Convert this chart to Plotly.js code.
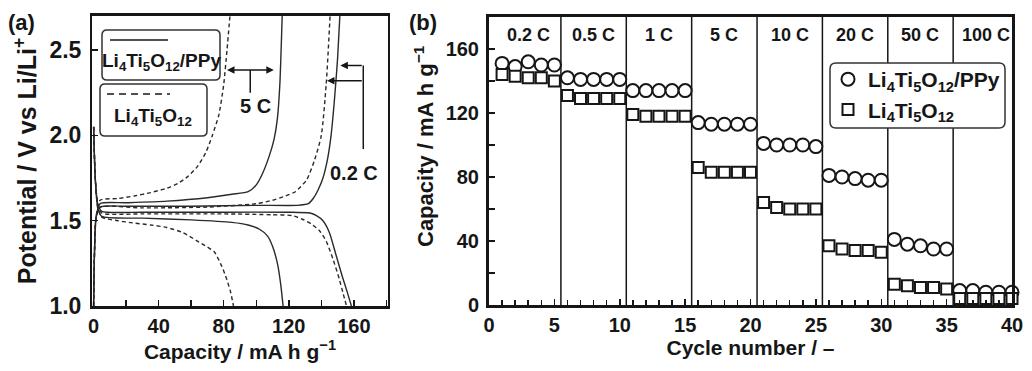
<!DOCTYPE html>
<html>
<head>
<meta charset="utf-8">
<script src="https://cdn.plot.ly/plotly-3.0.1.min.js"></script>
<style>
  body { margin: 0; background: #fff; }
  #plot { width: 1032px; height: 371px; }
</style>
</head>
<body>
<div id="plot"></div>
<script>
// ---- (a) charge / discharge profiles (capacity mA h/g, potential V) ----
var ppy02ChgX = [0, 0.5, 1.5, 4, 20, 60, 100, 125, 132, 135, 138, 141, 144, 146, 148, 150, 151.5];
var ppy02ChgY = [1.0, 1.3, 1.52, 1.58, 1.585, 1.585, 1.59, 1.59, 1.6, 1.63, 1.68, 1.75, 1.87, 2.0, 2.2, 2.45, 2.72];
var ppy02DisX = [0, 1, 2.5, 5, 30, 80, 120, 133, 137, 141, 145, 149, 153, 156, 158.5];
var ppy02DisY = [2.05, 1.75, 1.6, 1.555, 1.55, 1.55, 1.55, 1.545, 1.53, 1.5, 1.43, 1.3, 1.17, 1.08, 1.0];

var lto02ChgX = [0, 0.5, 1.5, 4, 30, 70, 100, 110, 118, 124, 131, 136, 140, 143, 145.5];
var lto02ChgY = [1.0, 1.3, 1.52, 1.58, 1.575, 1.58, 1.6, 1.62, 1.645, 1.67, 1.74, 1.86, 2.0, 2.3, 2.72];
var lto02DisX = [0, 1, 2.5, 5, 30, 80, 110, 122, 128, 134, 139, 143, 147, 151, 153.5, 155.5];
var lto02DisY = [2.05, 1.75, 1.6, 1.545, 1.54, 1.54, 1.535, 1.53, 1.51, 1.48, 1.44, 1.38, 1.28, 1.16, 1.07, 1.0];

var ppy5ChgX = [0, 0.5, 1.5, 4, 20, 45, 70, 85, 95, 100, 104, 108, 111, 113, 114.5, 116];
var ppy5ChgY = [1.0, 1.3, 1.52, 1.6, 1.605, 1.615, 1.635, 1.655, 1.67, 1.71, 1.78, 1.88, 1.98, 2.1, 2.3, 2.72];
var ppy5DisX = [0, 1, 2.5, 5, 30, 60, 85, 95, 102, 107, 110, 113, 115, 116.5];
var ppy5DisY = [2.05, 1.75, 1.58, 1.525, 1.515, 1.505, 1.49, 1.475, 1.45, 1.41, 1.35, 1.25, 1.13, 1.0];

var lto5ChgX = [0, 0.5, 1.5, 4, 15, 25, 35, 45, 52, 58, 64, 69, 73, 77, 80, 82, 84];
var lto5ChgY = [1.0, 1.3, 1.52, 1.62, 1.63, 1.645, 1.665, 1.69, 1.72, 1.76, 1.82, 1.9, 2.0, 2.12, 2.3, 2.5, 2.72];
var lto5DisX = [0, 1, 2.5, 5, 15, 24, 35, 45, 55, 63, 70, 74, 78, 81, 84, 86];
var lto5DisY = [2.05, 1.75, 1.58, 1.52, 1.5, 1.487, 1.475, 1.46, 1.43, 1.385, 1.345, 1.32, 1.25, 1.18, 1.09, 1.0];

// ---- (b) rate capability ----
var cycles = [1, 2, 3, 4, 5, 6, 7, 8, 9, 10, 11, 12, 13, 14, 15, 16, 17, 18, 19, 20,
              21, 22, 23, 24, 25, 26, 27, 28, 29, 30, 31, 32, 33, 34, 35, 36, 37, 38, 39, 40];
var ppyCap = [151, 149, 152, 150, 150, 142, 141, 141, 141, 141, 134, 134, 134, 134, 134,
              114, 113, 113, 113, 113, 101, 100, 100, 100, 99, 81, 80, 79, 78, 78,
              41, 38, 37, 35, 35, 9, 9, 8, 8, 8];
var ltoCap = [144, 143, 142, 142, 140, 131, 129, 129, 129, 129, 119, 118, 118, 118, 118,
              86, 83, 83, 83, 83, 64, 61, 60, 60, 60, 37, 35, 34, 34, 33,
              13, 12, 11, 11, 10, 4, 4, 4, 4, 4];
var rates = ['0.2 C', '0.5 C', '1 C', '5 C', '10 C', '20 C', '50 C', '100 C'];

var W = 1032, H = 371;
function px(x) { return x / W; }
function py(y) { return 1 - y / H; }
function roundRect(x0, y0, x1, y1, r) {
  var rx = r / W, ry = r / H;
  var a = px(x0), b = px(x1), t = py(y0), u = py(y1);
  return 'M' + (a + rx) + ',' + t + ' L' + (b - rx) + ',' + t +
    ' Q' + b + ',' + t + ' ' + b + ',' + (t - ry) +
    ' L' + b + ',' + (u + ry) + ' Q' + b + ',' + u + ' ' + (b - rx) + ',' + u +
    ' L' + (a + rx) + ',' + u + ' Q' + a + ',' + u + ' ' + a + ',' + (u + ry) +
    ' L' + a + ',' + (t - ry) + ' Q' + a + ',' + t + ' ' + (a + rx) + ',' + t + ' Z';
}

var ink = '#161616';
var fam = 'Arial, Liberation Sans, sans-serif';
function bold(size) { return { family: fam, size: size, color: ink, weight: 'bold' }; }

function curve(x, y, dash) {
  return {
    x: x, y: y, xaxis: 'x', yaxis: 'y', mode: 'lines', type: 'scatter',
    line: { color: '#2a2a2a', width: 1.4, dash: dash, shape: 'spline', smoothing: 0.6 },
    showlegend: false, hoverinfo: 'skip'
  };
}

var data = [
  curve(ppy02ChgX, ppy02ChgY, 'solid'),
  curve(ppy02DisX, ppy02DisY, 'solid'),
  curve(ppy5ChgX, ppy5ChgY, 'solid'),
  curve(ppy5DisX, ppy5DisY, 'solid'),
  curve(lto02ChgX, lto02ChgY, '4px,3px'),
  curve(lto02DisX, lto02DisY, '4px,3px'),
  curve(lto5ChgX, lto5ChgY, '4px,3px'),
  curve(lto5DisX, lto5DisY, '4px,3px'),
  {
    x: cycles, y: ppyCap, xaxis: 'x2', yaxis: 'y2', type: 'scatter', mode: 'markers',
    name: 'Li<sub>4</sub>Ti<sub>5</sub>O<sub>12</sub>/PPy', cliponaxis: false, legendgroup: 'ppy',
    marker: { symbol: 'circle', size: 13, color: '#fff', line: { color: ink, width: 2 } }
  },
  {
    x: cycles, y: ltoCap, xaxis: 'x2', yaxis: 'y2', type: 'scatter', mode: 'markers',
    name: 'Li<sub>4</sub>Ti<sub>5</sub>O<sub>12</sub>', cliponaxis: false, legendgroup: 'lto',
    marker: { symbol: 'square', size: 11, color: '#fff', line: { color: ink, width: 2 } }
  }
];

var shapes = [];
// separators between rate steps
for (var i = 1; i < rates.length; i++) {
  shapes.push({ type: 'line', xref: 'x2', yref: 'y2 domain', x0: 5 * i + 0.5, x1: 5 * i + 0.5,
    y0: 0, y1: 1, layer: 'below', line: { color: ink, width: 1.5 } });
}
// legend boxes
shapes.push({ type: 'path', xref: 'paper', yref: 'paper', path: roundRect(830, 63, 1005, 128, 6),
  fillcolor: '#fff', line: { color: '#333', width: 1.5 }, layer: 'above' });
shapes.push({ type: 'path', xref: 'paper', yref: 'paper', path: roundRect(102, 30, 220, 80, 5),
  fillcolor: '#fff', line: { color: '#333', width: 1.5 }, layer: 'above' });
shapes.push({ type: 'path', xref: 'paper', yref: 'paper', path: roundRect(100, 84, 207, 136, 5),
  fillcolor: '#fff', line: { color: '#333', width: 1.5 }, layer: 'above' });
shapes.push({ type: 'line', xref: 'paper', yref: 'paper', x0: px(110), x1: px(168), y0: py(40), y1: py(40),
  line: { color: ink, width: 1.5 } });
shapes.push({ type: 'line', xref: 'paper', yref: 'paper', x0: px(107), x1: px(170), y0: py(94), y1: py(94),
  line: { color: ink, width: 1.5, dash: '7px,5px' } });
// arrow stems
shapes.push({ type: 'line', xref: 'x', yref: 'y', x0: 96.3, x1: 96.3, y0: 2.384, y1: 2.25,
  line: { color: ink, width: 1.5 } });
shapes.push({ type: 'line', xref: 'x', yref: 'y', x0: 165.8, x1: 165.8, y0: 2.41, y1: 1.92,
  line: { color: ink, width: 1.5 } });

var annotations = [
  { xref: 'paper', yref: 'paper', x: px(21), y: py(22), xanchor: 'center', yanchor: 'middle',
    text: '(a)', showarrow: false, font: bold(22) },
  { xref: 'paper', yref: 'paper', x: px(423), y: py(23), xanchor: 'center', yanchor: 'middle',
    text: '(b)', showarrow: false, font: bold(22) },
  { xref: 'paper', yref: 'paper', x: px(424), y: py(146), xanchor: 'center', yanchor: 'middle',
    textangle: -90, text: 'Capacity / mA h g<sup>−1</sup>', showarrow: false, font: bold(22) },
  { xref: 'paper', yref: 'paper', x: px(161), y: py(62), xanchor: 'center', yanchor: 'middle',
    text: 'Li<sub>4</sub>Ti<sub>5</sub>O<sub>12</sub>/PPy', showarrow: false, font: bold(19) },
  { xref: 'paper', yref: 'paper', x: px(153), y: py(117), xanchor: 'center', yanchor: 'middle',
    text: 'Li<sub>4</sub>Ti<sub>5</sub>O<sub>12</sub>', showarrow: false, font: bold(19) },
  { xref: 'x', yref: 'y', x: 99.5, y: 2.17, xanchor: 'center', text: '5 C', showarrow: false, font: bold(20) },
  { xref: 'x', yref: 'y', x: 160.3, y: 1.78, xanchor: 'center', text: '0.2 C', showarrow: false, font: bold(20) },
  { xref: 'x', yref: 'y', axref: 'x', ayref: 'y', x: 82, y: 2.384, ax: 111.7, ay: 2.384, text: '',
    showarrow: true, arrowside: 'end+start', arrowhead: 2, arrowsize: 1, arrowwidth: 1.5, arrowcolor: ink },
  { xref: 'x', yref: 'y', axref: 'x', ayref: 'y', x: 151.7, y: 2.41, ax: 165.8, ay: 2.41, text: '',
    showarrow: true, arrowhead: 2, arrowsize: 1, arrowwidth: 1.5, arrowcolor: ink },
  { xref: 'x', yref: 'y', axref: 'x', ayref: 'y', x: 143.5, y: 2.32, ax: 165.8, ay: 2.32, text: '',
    showarrow: true, arrowhead: 2, arrowsize: 1, arrowwidth: 1.5, arrowcolor: ink }
];
for (var j = 0; j < rates.length; j++) {
  annotations.push({ xref: 'x2', yref: 'y2', x: 5 * j + 3, y: 169, xanchor: 'center', text: rates[j],
    showarrow: false, font: bold(18) });
}

var tickCommon = { ticks: 'inside', ticklen: 6, tickwidth: 1.5, tickcolor: ink,
  showline: true, mirror: true, linecolor: ink, showgrid: false, zeroline: false };

var layout = {
  width: W, height: H,
  margin: { l: 0, r: 0, t: 0, b: 0 },
  paper_bgcolor: '#fff', plot_bgcolor: '#fff',
  font: bold(17),
  showlegend: true,
  legend: {
    x: px(828), y: py(59), xanchor: 'left', yanchor: 'top',
    bgcolor: 'rgba(0,0,0,0)', borderwidth: 0, itemwidth: 30, tracegroupgap: 0,
    font: bold(21)
  },
  xaxis: Object.assign({}, tickCommon, {
    domain: [px(92), px(388)], anchor: 'y', range: [-1, 181],
    tick0: 0, dtick: 40, linewidth: 3,
    minor: { dtick: 20, ticks: 'inside', ticklen: 6, tickwidth: 1.5, tickcolor: ink },
    tickfont: bold(20),
    title: { text: 'Capacity / mA h g<sup>−1</sup>', font: bold(21), standoff: 2 }
  }),
  yaxis: Object.assign({}, tickCommon, {
    domain: [py(306), py(16)], anchor: 'x', range: [1.0, 2.7],
    tick0: 1, dtick: 0.5, tickformat: '.1f', linewidth: 2,
    tickfont: bold(23), ticklabelstandoff: 4,
    title: { text: 'Potential / V vs Li/Li<sup>+</sup>', font: bold(25), standoff: 6 }
  }),
  xaxis2: Object.assign({}, tickCommon, {
    domain: [px(489), px(1012)], anchor: 'y2', range: [0, 40],
    tick0: 0, dtick: 5, linewidth: 3,
    minor: { dtick: 1, ticks: 'inside', ticklen: 5, tickwidth: 1.5, tickcolor: ink },
    tickfont: bold(20),
    title: { text: 'Cycle number / –', font: bold(21), standoff: 2 }
  }),
  yaxis2: Object.assign({}, tickCommon, {
    domain: [py(305), py(17)], anchor: 'x2', range: [0, 180],
    tick0: 0, dtick: 40, linewidth: 3,
    minor: { dtick: 20, ticks: 'inside', ticklen: 6, tickwidth: 1.5, tickcolor: ink },
    tickfont: bold(20), ticklabelstandoff: 3
  }),
  shapes: shapes,
  annotations: annotations
};

Plotly.newPlot('plot', data, layout, { displayModeBar: false, staticPlot: true });
</script>
</body>
</html>
